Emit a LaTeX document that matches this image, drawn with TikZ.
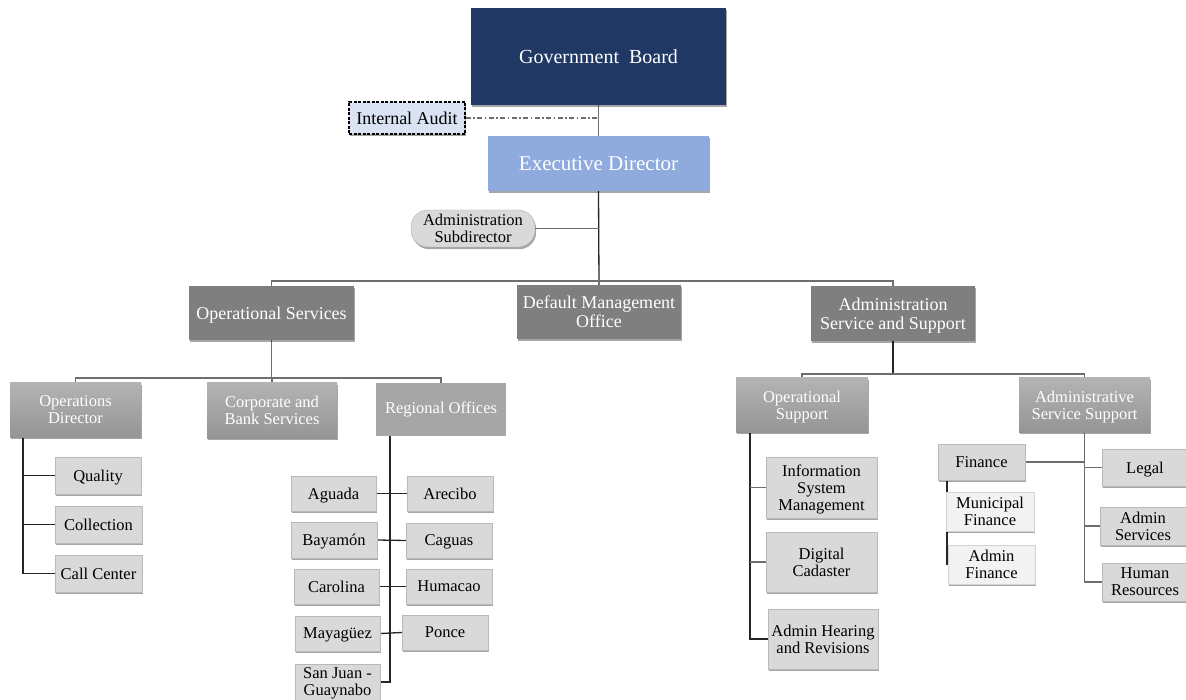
\documentclass[tikz,border=0pt]{standalone}
\usepackage{fontspec}
\setmainfont{Liberation Serif}
\newfontfamily\chartfont{Liberation Serif}
\usetikzlibrary{shadows,backgrounds}

\definecolor{boardnavy}{HTML}{203864}
\definecolor{execblue}{HTML}{8FAADC}
\definecolor{auditblue}{HTML}{DAE3F3}
\definecolor{deptgray}{HTML}{7F7F7F}
\definecolor{sectgray}{HTML}{A6A6A6}
\definecolor{sectdark}{HTML}{959595}
\definecolor{leafgray}{HTML}{D9D9D9}
\definecolor{palegray}{HTML}{F2F2F2}
\definecolor{linegray}{HTML}{6E6E6E}

\newcommand\chartsize[2]{\chartfont\fontsize{#1}{#2}\selectfont}

\tikzset{
  unit/.style={rectangle, inner sep=1pt, align=center, text depth=0pt,
    drop shadow={shadow xshift=1.2pt, shadow yshift=-2.2pt, opacity=0.35, fill=black}},
  board/.style={unit, fill=boardnavy, text=white, font=\chartsize{20}{22}},
  execbox/.style={unit, fill=execblue, text=white, font=\chartsize{21}{23}},
  auditbox/.style={unit, fill=auditblue, draw=black, dash pattern=on 3pt off 1.5pt,
    line width=1.2pt, font=\chartsize{18}{20}},
  subdir/.style={unit, fill=leafgray, draw=gray!60, rounded corners=17pt,
    font=\chartsize{16.5}{17}},
  dept/.style={unit, fill=deptgray, text=white, font=\chartsize{18}{19}},
  sect/.style={unit, top color=sectgray!85, bottom color=sectdark, text=white,
    font=\chartsize{16.5}{17}},
  flatsect/.style={rectangle, inner sep=1pt, align=center, fill=sectgray, text=white,
    font=\chartsize{16.5}{17}},
  leaf/.style={unit, fill=leafgray, draw=gray!55, font=\chartsize{16.5}{17}},
  paleleaf/.style={unit, fill=palegray, draw=gray!35, font=\chartsize{16.5}{17}},
  link/.style={draw=linegray, line width=1.4pt},
  trunk/.style={draw=black!85, line width=1.3pt},
}

\begin{document}
\begin{tikzpicture}[x=1pt, y=-1pt]
\useasboundingbox (0,0) rectangle (1186,700);

% top level
\node[board, minimum width=255pt, minimum height=97pt] (gb) at (598.5,56.5) {Government\ \ Board};
\node[auditbox, minimum width=116pt, minimum height=32pt] (ia) at (407,118) {Internal Audit};
\node[execbox, minimum width=221pt, minimum height=55pt] (ed) at (598.5,163.5) {Executive Director};
\node[subdir, minimum width=124pt, minimum height=37pt] (sub) at (473,228.5) {Administration\\Subdirector};

% departments
\node[dept, minimum width=165pt, minimum height=54pt] (os) at (271.5,313) {Operational Services};
\node[dept, minimum width=164pt, minimum height=54pt] (dmo) at (599,312) {Default Management\\Office};
\node[dept, minimum width=164pt, minimum height=55pt] (ass) at (893,313.5) {Administration\\Service and Support};

% operational services branch
\node[sect, minimum width=131pt, minimum height=54pt] (od) at (75.5,410) {Operations\\Director};
\node[sect, minimum width=130pt, minimum height=55pt] (cbs) at (272,410.5) {Corporate and\\Bank Services};
\node[flatsect, minimum width=130pt, minimum height=53pt] (ro) at (441,409.5) {Regional Offices};

\node[leaf, minimum width=86pt, minimum height=37pt] (qa) at (98,475.5) {Quality};
\node[leaf, minimum width=87pt, minimum height=37pt] (col) at (98.5,524.5) {Collection};
\node[leaf, minimum width=87pt, minimum height=37pt] (cc) at (98.5,573.5) {Call Center};

\node[leaf, minimum width=85pt, minimum height=35pt] (agu) at (333.5,493.5) {Aguada};
\node[leaf, minimum width=86pt, minimum height=36pt] (bay) at (334,540) {Bayamón};
\node[leaf, minimum width=85pt, minimum height=35pt] (car) at (336.5,586.5) {Carolina};
\node[leaf, minimum width=85pt, minimum height=35pt] (may) at (337.5,633.5) {Mayagüez};
\node[leaf, minimum width=85pt, minimum height=36pt] (sjg) at (337.5,682) {San Juan -\\Guaynabo};
\node[leaf, minimum width=86pt, minimum height=35pt] (are) at (450,493.5) {Arecibo};
\node[leaf, minimum width=86pt, minimum height=35pt] (cag) at (449,540.5) {Caguas};
\node[leaf, minimum width=86pt, minimum height=35pt] (hum) at (449,586.5) {Humacao};
\node[leaf, minimum width=86pt, minimum height=35pt] (pon) at (445,632.5) {Ponce};

% administration branch
\node[sect, minimum width=132pt, minimum height=54pt] (ops) at (802,405) {Operational\\Support};
\node[sect, minimum width=131pt, minimum height=54pt] (adss) at (1084.5,405) {Administrative\\Service Support};

\node[leaf, minimum width=111pt, minimum height=61pt] (ism) at (821.5,487.5) {Information\\System\\Management};
\node[leaf, minimum width=111pt, minimum height=60pt] (dc) at (821.5,562) {Digital\\Cadaster};
\node[leaf, minimum width=110pt, minimum height=60pt] (ahr) at (823,639) {Admin Hearing\\and Revisions};

\node[leaf, minimum width=87pt, minimum height=36pt] (fin) at (981.5,462) {Finance};
\node[paleleaf, minimum width=88pt, minimum height=39pt] (mfin) at (990,511.5) {Municipal\\Finance};
\node[paleleaf, minimum width=87pt, minimum height=39pt] (afin) at (991.5,564.5) {Admin\\Finance};
\node[leaf, minimum width=86pt, minimum height=37pt] (leg) at (1145,467.5) {Legal};
\node[leaf, minimum width=86pt, minimum height=38pt] (asv) at (1143,526) {Admin\\Services};
\node[leaf, minimum width=86pt, minimum height=38pt] (hr) at (1145,582) {Human\\Resources};

% bus lines and branch rails
\coordinate (busA) at (0,281);
\coordinate (busB) at (0,378);
\coordinate (busC) at (0,374);
\coordinate (railOD) at (23,0);
\coordinate (railRO) at (390,0);
\coordinate (railOPS) at (750,0);
\coordinate (railFIN) at (947,0);

\begin{scope}[on background layer]
  \fill[white] (0,0) rectangle (1186,700);
  % top of the chart
  \draw[link] (gb.south) -- (ed.north);
  \draw[link, line width=1.2pt, dash pattern=on 5pt off 2.5pt on 1.5pt off 2.5pt] (ia.east) -- (ia.east -| gb.south);
  \draw[trunk] (ed.south) -- (dmo.north);
  \draw[link] (sub.east) -- (sub.east -| ed.south);
  \draw[link] (os.north) -- (os.north |- busA) -- (ass.north |- busA) -- (ass.north);
  % operational services
  \draw[link] (os.south) -- (os.south |- busB);
  \draw[link] (od.north) -- (od.north |- busB) -- (ro.north |- busB) -- (ro.north);
  \draw[link] (cbs.north) -- (cbs.north |- busB);
  \draw[trunk] (railOD |- od.south) |- (cc.west);
  \draw[trunk] (railOD |- qa.west) -- (qa.west);
  \draw[trunk] (railOD |- col.west) -- (col.west);
  \draw[trunk] (railRO |- ro.south) |- (sjg.east);
  \draw[trunk] (agu.east) -- (are.west);
  \draw[trunk] (bay.east) -- (cag.west);
  \draw[trunk] (car.east) -- (hum.west);
  \draw[trunk] (may.east) -- (pon.west);
  % administration service and support
  \draw[trunk] (ass.south) -- (ass.south |- busC);
  \draw[link] (ops.north) -- (ops.north |- busC) -- (adss.north |- busC) -- (adss.north);
  \draw[trunk] (railOPS |- ops.south) |- (ahr.west);
  \draw[link] (railOPS |- ism.west) -- (ism.west);
  \draw[link] (railOPS |- dc.west) -- (dc.west);
  \draw[link] (adss.south) |- (hr.west);
  \draw[link] (adss.south |- leg.west) -- (leg.west);
  \draw[link] (adss.south |- asv.west) -- (asv.west);
  \draw[link] (fin.east) -- (fin.east -| adss.south);
  \draw[trunk] (railFIN |- fin.south) -- (railFIN |- afin.west);
\end{scope}
\end{tikzpicture}
\end{document}
